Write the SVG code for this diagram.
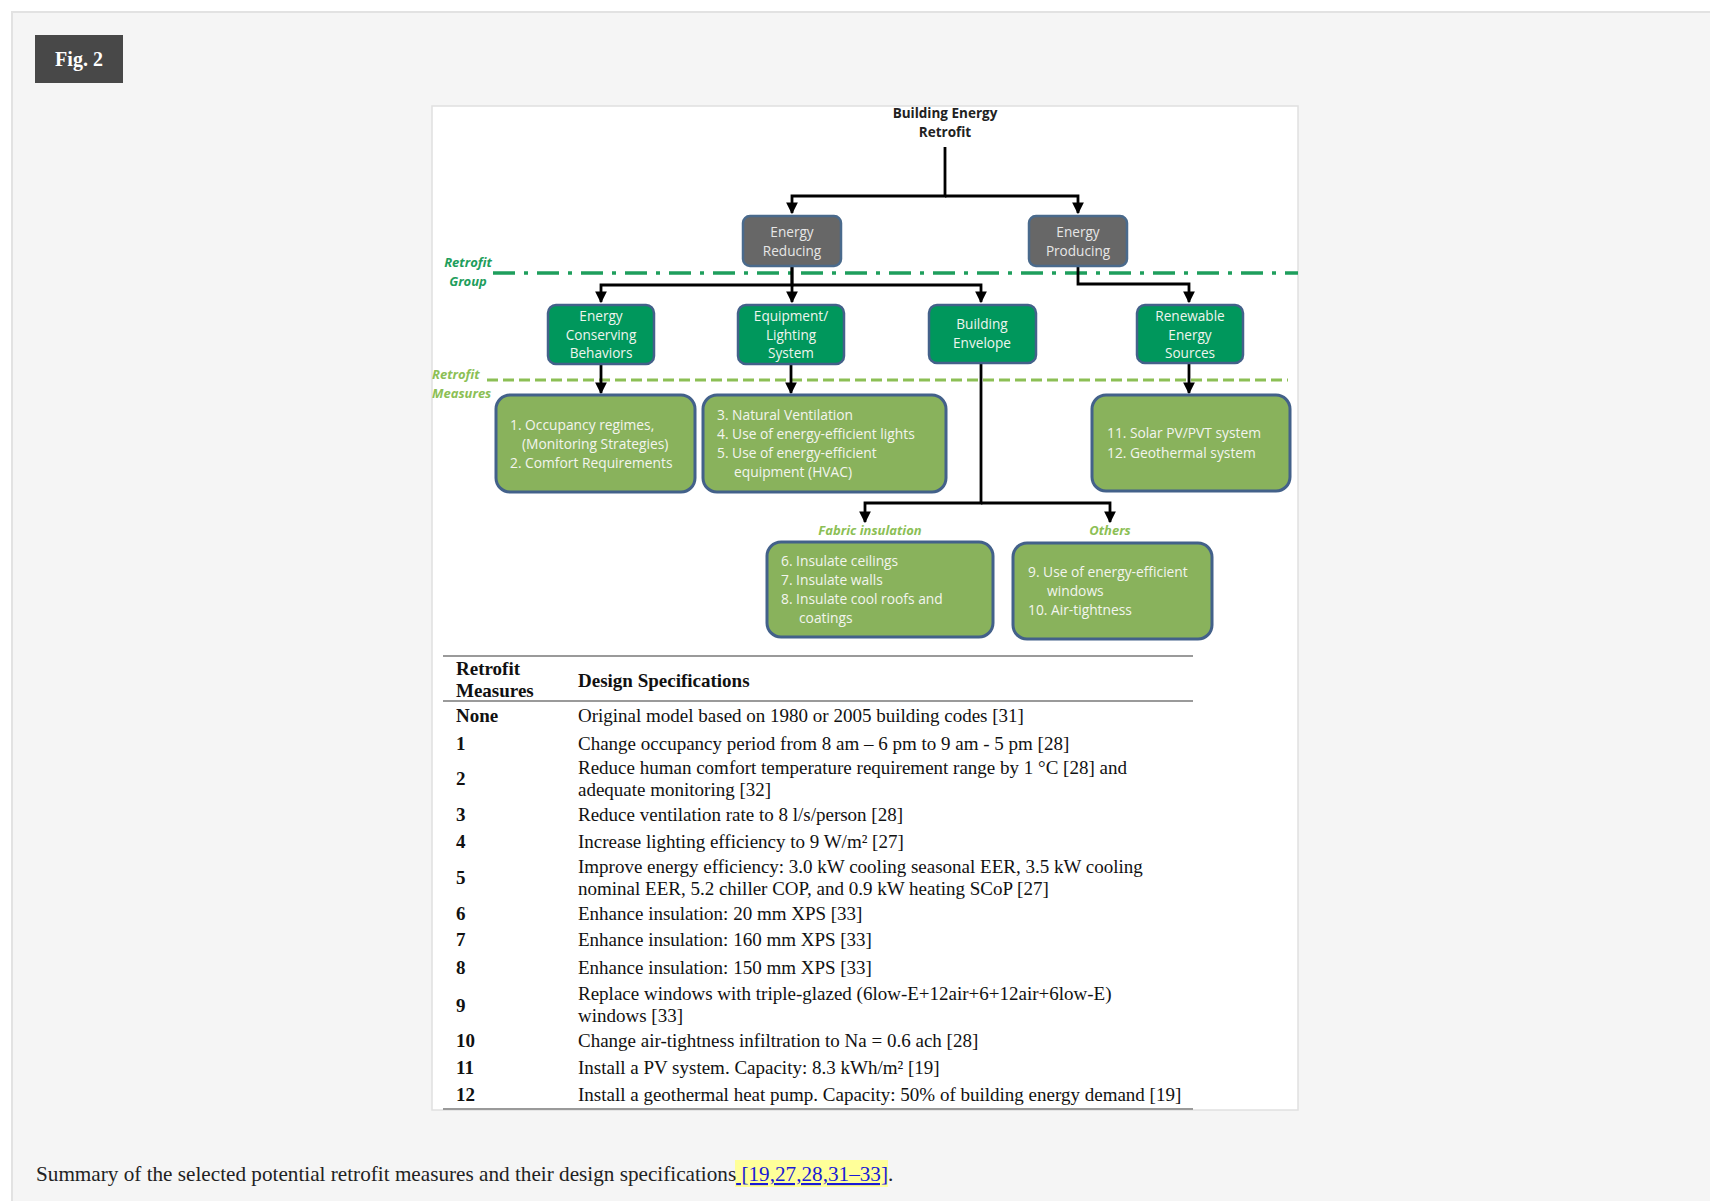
<svg xmlns="http://www.w3.org/2000/svg" width="1710" height="1201" viewBox="0 0 1710 1201">
<defs>
<marker id="arr" viewBox="0 0 10 10" refX="9" refY="5" markerWidth="4.2" markerHeight="4.2" orient="auto" markerUnits="strokeWidth">
<path d="M0,0 L10,5 L0,10 z" fill="#000"/>
</marker>
<style>
.gray{fill:#676767;stroke:#4a6a8c;stroke-width:2.5}
.grp{fill:#00975c;stroke:#43618a;stroke-width:2.5}
.mea{fill:#89b25c;stroke:#43618a;stroke-width:3}
.nt{font-family:"Open Sans","Liberation Sans",sans-serif;font-size:13.6px;text-anchor:middle}
.gt{fill:#e6e6e6}
.wt{fill:#eef5ee}
.mt{font-family:"Open Sans","Liberation Sans",sans-serif;font-size:13.8px;fill:#f3f5ee}
.lab1{font-family:"Open Sans","Liberation Sans",sans-serif;font-size:13px;font-style:italic;font-weight:bold;fill:#1e9e5c}
.lab2{font-family:"Open Sans","Liberation Sans",sans-serif;font-size:13px;font-style:italic;font-weight:bold;fill:#8cbf55}
.conn path{fill:none;stroke:#000;stroke-width:2.8}
.tb{font-family:"Liberation Serif","Times New Roman",serif;font-size:19px;fill:#111}
.tbb{font-family:"Liberation Serif","Times New Roman",serif;font-size:19px;font-weight:bold;fill:#111}
.rule{stroke:#9a9a9a;stroke-width:2}
</style>
</defs>
<rect x="0" y="0" width="1710" height="1201" fill="#fff"/>
<rect x="12" y="12" width="1720" height="1220" fill="#f5f5f5" stroke="#e2e2e2" stroke-width="2"/>
<g id="figlabel">
<rect x="35" y="35" width="88" height="48" fill="#484848"/>
<text x="79" y="66" font-family="Liberation Serif,serif" font-size="20" font-weight="bold" fill="#fff" text-anchor="middle">Fig. 2</text>
</g>
<rect x="432" y="106" width="866" height="1004" fill="#fff" stroke="#e0e0e0" stroke-width="1.5"/>

<!-- level separators -->
<line x1="493" y1="273" x2="1298" y2="273" stroke="#1e9e5c" stroke-width="3.5" stroke-dasharray="22,9,4,9"/>
<line x1="487" y1="380" x2="1288" y2="380" stroke="#8cbf55" stroke-width="3" stroke-dasharray="11,5"/>
<text class="lab1" x="468" y="267" text-anchor="middle">Retrofit</text>
<text class="lab1" x="468" y="286" text-anchor="middle">Group</text>
<text class="lab2" x="432" y="379">Retrofit</text>
<text class="lab2" x="432" y="398">Measures</text>

<g class="conn">
<path d="M945,147 V196 H792 V213" marker-end="url(#arr)"/>
<path d="M945,196 H1078 V213" marker-end="url(#arr)"/>
<path d="M792,266 V285 H601 V302" marker-end="url(#arr)"/>
<path d="M792,266 V302" marker-end="url(#arr)"/>
<path d="M792,285 H981 V302" marker-end="url(#arr)"/>
<path d="M1078,266 V284 H1189 V302" marker-end="url(#arr)"/>
<path d="M601,364 V393" marker-end="url(#arr)"/>
<path d="M791,364 V393" marker-end="url(#arr)"/>
<path d="M1189,363 V393" marker-end="url(#arr)"/>
<path d="M981,363 V503 H865 V522" marker-end="url(#arr)"/>
<path d="M981,503 H1110 V522" marker-end="url(#arr)"/>
</g>

<g id="root">
<text x="945" y="118" font-family="Open Sans,Liberation Sans,sans-serif" font-size="13.5" font-weight="bold" fill="#222" text-anchor="middle">Building Energy</text>
<text x="945" y="137" font-family="Open Sans,Liberation Sans,sans-serif" font-size="13.5" font-weight="bold" fill="#222" text-anchor="middle">Retrofit</text>
</g>
<g id="energy-reducing">
<rect class="gray" x="743" y="216" width="98" height="50" rx="7"/>
<text class="nt gt" x="792" y="237">Energy</text>
<text class="nt gt" x="792" y="256">Reducing</text>
</g>
<g id="energy-producing">
<rect class="gray" x="1029" y="216" width="98" height="50" rx="7"/>
<text class="nt gt" x="1078" y="237">Energy</text>
<text class="nt gt" x="1078" y="256">Producing</text>
</g>
<g id="ecb">
<rect class="grp" x="548" y="305" width="106" height="59" rx="8"/>
<text class="nt wt" x="601" y="321">Energy</text>
<text class="nt wt" x="601" y="340">Conserving</text>
<text class="nt wt" x="601" y="358">Behaviors</text>
</g>
<g id="els">
<rect class="grp" x="738" y="305" width="106" height="59" rx="8"/>
<text class="nt wt" x="791" y="321">Equipment/</text>
<text class="nt wt" x="791" y="340">Lighting</text>
<text class="nt wt" x="791" y="358">System</text>
</g>
<g id="be">
<rect class="grp" x="929" y="305" width="107" height="58" rx="8"/>
<text class="nt wt" x="982" y="329">Building</text>
<text class="nt wt" x="982" y="348">Envelope</text>
</g>
<g id="res">
<rect class="grp" x="1137" y="305" width="106" height="58" rx="8"/>
<text class="nt wt" x="1190" y="321">Renewable</text>
<text class="nt wt" x="1190" y="340">Energy</text>
<text class="nt wt" x="1190" y="358">Sources</text>
</g>
<g id="m12">
<rect class="mea" x="496" y="395" width="199" height="97" rx="14"/>
<text class="mt" x="510" y="430">1. Occupancy regimes,</text>
<text class="mt" x="522" y="449">(Monitoring Strategies)</text>
<text class="mt" x="510" y="468">2. Comfort Requirements</text>
</g>
<g id="m345">
<rect class="mea" x="703" y="395" width="243" height="97" rx="14"/>
<text class="mt" x="717" y="420">3. Natural Ventilation</text>
<text class="mt" x="717" y="439">4. Use of energy-efficient lights</text>
<text class="mt" x="717" y="458">5. Use of energy-efficient</text>
<text class="mt" x="734" y="477">equipment (HVAC)</text>
</g>
<g id="m1112">
<rect class="mea" x="1092" y="395" width="198" height="96" rx="14"/>
<text class="mt" x="1107" y="438">11. Solar PV/PVT system</text>
<text class="mt" x="1107" y="458">12. Geothermal system</text>
</g>
<g id="fabric">
<text class="lab2" x="870" y="535" text-anchor="middle">Fabric insulation</text>
<rect class="mea" x="767" y="542" width="226" height="95" rx="14"/>
<text class="mt" x="781" y="566">6. Insulate ceilings</text>
<text class="mt" x="781" y="585">7. Insulate walls</text>
<text class="mt" x="781" y="604">8. Insulate cool roofs and</text>
<text class="mt" x="799" y="623">coatings</text>
</g>
<g id="others">
<text class="lab2" x="1110" y="535" text-anchor="middle">Others</text>
<rect class="mea" x="1013" y="543" width="199" height="96" rx="14"/>
<text class="mt" x="1028" y="577">9. Use of energy-efficient</text>
<text class="mt" x="1047" y="596">windows</text>
<text class="mt" x="1028" y="615">10. Air-tightness</text>
</g>

<g id="table">
<line class="rule" x1="443" y1="656" x2="1193" y2="656"/>
<line class="rule" x1="443" y1="701" x2="1193" y2="701"/>
<line class="rule" x1="443" y1="1109" x2="1193" y2="1109"/>
<text class="tbb" x="456" y="675">Retrofit</text>
<text class="tbb" x="456" y="697">Measures</text>
<text class="tbb" x="578" y="687">Design Specifications</text>
<text class="tbb" x="456" y="722">None</text>
<text class="tb" x="578" y="722">Original model based on 1980 or 2005 building codes [31]</text>
<text class="tbb" x="456" y="750">1</text>
<text class="tb" x="578" y="750">Change occupancy period from 8 am – 6 pm to 9 am - 5 pm [28]</text>
<text class="tbb" x="456" y="785">2</text>
<text class="tb" x="578" y="774">Reduce human comfort temperature requirement range by 1 °C [28] and</text>
<text class="tb" x="578" y="796">adequate monitoring [32]</text>
<text class="tbb" x="456" y="821">3</text>
<text class="tb" x="578" y="821">Reduce ventilation rate to 8 l/s/person [28]</text>
<text class="tbb" x="456" y="848">4</text>
<text class="tb" x="578" y="848">Increase lighting efficiency to 9 W/m² [27]</text>
<text class="tbb" x="456" y="884">5</text>
<text class="tb" x="578" y="873">Improve energy efficiency: 3.0 kW cooling seasonal EER, 3.5 kW cooling</text>
<text class="tb" x="578" y="895">nominal EER, 5.2 chiller COP, and 0.9 kW heating SCoP [27]</text>
<text class="tbb" x="456" y="920">6</text>
<text class="tb" x="578" y="920">Enhance insulation: 20 mm XPS [33]</text>
<text class="tbb" x="456" y="946">7</text>
<text class="tb" x="578" y="946">Enhance insulation: 160 mm XPS [33]</text>
<text class="tbb" x="456" y="974">8</text>
<text class="tb" x="578" y="974">Enhance insulation: 150 mm XPS [33]</text>
<text class="tbb" x="456" y="1012">9</text>
<text class="tb" x="578" y="1000">Replace windows with triple-glazed (6low-E+12air+6+12air+6low-E)</text>
<text class="tb" x="578" y="1022">windows [33]</text>
<text class="tbb" x="456" y="1047">10</text>
<text class="tb" x="578" y="1047">Change air-tightness infiltration to Na = 0.6 ach [28]</text>
<text class="tbb" x="456" y="1074">11</text>
<text class="tb" x="578" y="1074">Install a PV system. Capacity: 8.3 kWh/m² [19]</text>
<text class="tbb" x="456" y="1101">12</text>
<text class="tb" x="578" y="1101">Install a geothermal heat pump. Capacity: 50% of building energy demand [19]</text>
</g>

<g id="caption">
<rect x="735" y="1160" width="153" height="27" fill="#ffff99"/>
<text x="36" y="1181" font-family="Liberation Serif,Times New Roman,serif" font-size="21.2" fill="#222">Summary of the selected potential retrofit measures and their design specifications<tspan fill="#1a1ad6" text-decoration="underline"> [19,27,28,31–33]</tspan>.</text>
</g>
</svg>
